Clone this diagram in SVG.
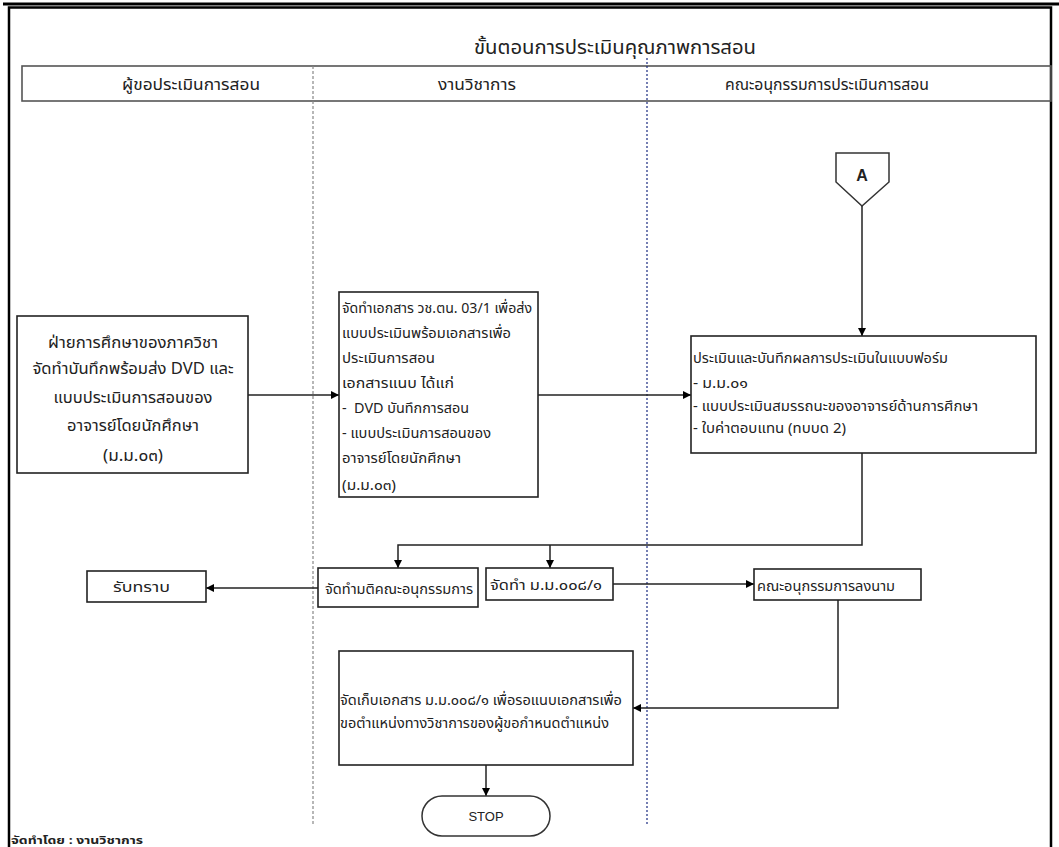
<svg xmlns="http://www.w3.org/2000/svg" width="1059" height="847" viewBox="0 0 1059 847">
<defs>
<marker id="ah" markerWidth="8" markerHeight="8" refX="8" refY="4" orient="auto" markerUnits="userSpaceOnUse">
<path d="M0,0 L8,4 L0,8 Z" fill="#000"/>
</marker>
<style>
text{font-family:"Noto Sans Thai","Noto Sans","Liberation Sans",sans-serif;fill:#222;}
.t13{font-size:13.5px;}
.t14{font-size:14px;}
.t16{font-size:16px;}
.c{text-anchor:middle;}
.box{fill:#fff;stroke:#222;stroke-width:1.6;}
.conn{fill:none;stroke:#222;stroke-width:1.5;}
</style>
</defs>
<rect width="1059" height="847" fill="#fff"/>
<!-- frame -->
<line x1="3" y1="4" x2="1059" y2="4" stroke="#000" stroke-width="3"/>
<path d="M9,860 V7.5 H1051 V860" fill="none" stroke="#000" stroke-width="2.5"/>
<g id="title">
<text x="474" y="54" style="font-size:19px" textLength="282" lengthAdjust="spacingAndGlyphs">ขั้นตอนการประเมินคุณภาพการสอน</text>
</g>
<g id="lanes">
<rect x="22" y="66" width="1029" height="35" fill="none" stroke="#555" stroke-width="1.6"/>
<line x1="313" y1="66" x2="313" y2="826" stroke="#888" stroke-width="1.2" stroke-dasharray="3,2"/>
<line x1="647" y1="58" x2="647" y2="826" stroke="#1a2a80" stroke-width="1.2" stroke-dasharray="2,2"/>
<text x="122" y="90" class="t16" textLength="138" lengthAdjust="spacingAndGlyphs">ผู้ขอประเมินการสอน</text>
<text x="438" y="90" class="t16" textLength="78" lengthAdjust="spacingAndGlyphs">งานวิชาการ</text>
<text x="725" y="90" class="t16" textLength="204" lengthAdjust="spacingAndGlyphs">คณะอนุกรรมการประเมินการสอน</text>
</g>
<g id="connectors">
<path class="conn" d="M248,395 H339" marker-end="url(#ah)"/>
<path class="conn" d="M538,395 H691" marker-end="url(#ah)"/>
<path class="conn" d="M862,206 V336" marker-end="url(#ah)"/>
<path class="conn" d="M862,453 V545 H398 V568" marker-end="url(#ah)"/>
<path class="conn" d="M550,545 V568" marker-end="url(#ah)"/>
<path class="conn" d="M318,588 H206" marker-end="url(#ah)"/>
<path class="conn" d="M613,584 H754" marker-end="url(#ah)"/>
<path class="conn" d="M838,600 V708 H633" marker-end="url(#ah)"/>
<path class="conn" d="M486,765 V796" marker-end="url(#ah)"/>
</g>
<g id="n_start">
<rect class="box" x="17" y="316" width="231" height="157"/>
<text class="c t16" x="133" y="348" textLength="170" lengthAdjust="spacingAndGlyphs">ฝ่ายการศึกษาของภาควิชา</text>
<text class="c t16" x="133" y="374" textLength="201" lengthAdjust="spacingAndGlyphs">จัดทำบันทึกพร้อมส่ง DVD และ</text>
<text class="c t16" x="133" y="403" textLength="159" lengthAdjust="spacingAndGlyphs">แบบประเมินการสอนของ</text>
<text class="c t16" x="133" y="431" textLength="132" lengthAdjust="spacingAndGlyphs">อาจารย์โดยนักศึกษา</text>
<text class="c t16" x="133" y="461" textLength="60" lengthAdjust="spacingAndGlyphs">(ม.ม.๐๓)</text>
</g>
<g id="n_doc">
<rect class="box" x="339" y="292" width="199" height="205"/>
<text class="t14" x="342" y="313" textLength="190" lengthAdjust="spacingAndGlyphs">จัดทำเอกสาร วช.ตน. 03/1 เพื่อส่ง</text>
<text class="t14" x="342" y="338" textLength="169" lengthAdjust="spacingAndGlyphs">แบบประเมินพร้อมเอกสารเพื่อ</text>
<text class="t14" x="342" y="363" textLength="93" lengthAdjust="spacingAndGlyphs">ประเมินการสอน</text>
<text class="t14" x="342" y="388" textLength="112" lengthAdjust="spacingAndGlyphs">เอกสารแนบ ได้แก่</text>
<text class="t14" x="342" y="413" xml:space="preserve" textLength="127" lengthAdjust="spacingAndGlyphs">-  DVD บันทึกการสอน</text>
<text class="t14" x="342" y="438" textLength="149" lengthAdjust="spacingAndGlyphs">- แบบประเมินการสอนของ</text>
<text class="t14" x="342" y="463" textLength="119" lengthAdjust="spacingAndGlyphs">อาจารย์โดยนักศึกษา</text>
<text class="t14" x="342" y="490" textLength="54" lengthAdjust="spacingAndGlyphs">(ม.ม.๐๓)</text>
</g>
<g id="n_A">
<path d="M836,153 H889 V182 L862,206 L836,182 Z" fill="#fff" stroke="#333" stroke-width="1.5"/>
<text x="862" y="181" class="c" style="font-size:16px;font-family:'Liberation Sans',sans-serif;font-weight:bold">A</text>
</g>
<g id="n_eval">
<rect class="box" x="691" y="336" width="345" height="117"/>
<text class="t13" x="693" y="363" textLength="255" lengthAdjust="spacingAndGlyphs">ประเมินและบันทึกผลการประเมินในแบบฟอร์ม</text>
<text class="t13" x="693" y="388" textLength="55" lengthAdjust="spacingAndGlyphs">- ม.ม.๐๑</text>
<text class="t13" x="693" y="411" textLength="285" lengthAdjust="spacingAndGlyphs">- แบบประเมินสมรรถนะของอาจารย์ด้านการศึกษา</text>
<text class="t13" x="693" y="433" textLength="153" lengthAdjust="spacingAndGlyphs">- ใบค่าตอบแทน (ทบบด 2)</text>
</g>
<g id="n_ack">
<rect class="box" x="87" y="571" width="119" height="31"/>
<text class="t14" x="113" y="592" textLength="57" lengthAdjust="spacingAndGlyphs">รับทราบ</text>
</g>
<g id="n_resolution">
<rect class="box" x="318" y="568" width="160" height="39"/>
<text class="t14" x="325" y="594" textLength="148" lengthAdjust="spacingAndGlyphs">จัดทำมติคณะอนุกรรมการ</text>
</g>
<g id="n_form">
<rect class="box" x="486" y="568" width="127" height="32"/>
<text class="t14" x="490" y="590" textLength="112" lengthAdjust="spacingAndGlyphs">จัดทำ ม.ม.๐๐๘/๑</text>
</g>
<g id="n_sign">
<rect class="box" x="754" y="569" width="167" height="31"/>
<text class="t14" x="757" y="591" textLength="138" lengthAdjust="spacingAndGlyphs">คณะอนุกรรมการลงนาม</text>
</g>
<g id="n_store">
<rect class="box" x="339" y="651" width="294" height="114"/>
<text class="t14" x="340" y="705" textLength="282" lengthAdjust="spacingAndGlyphs">จัดเก็บเอกสาร ม.ม.๐๐๘/๑ เพื่อรอแนบเอกสารเพื่อ</text>
<text class="t14" x="340" y="728" textLength="269" lengthAdjust="spacingAndGlyphs">ขอตำแหน่งทางวิชาการของผู้ขอกำหนดตำแหน่ง</text>
</g>
<g id="n_stop">
<rect x="422" y="796" width="128" height="40" rx="20" ry="20" fill="#fff" stroke="#333" stroke-width="1.5"/>
<text x="486" y="821" class="c" style="font-size:13px;font-family:'Liberation Sans',sans-serif">STOP</text>
</g>
<g id="footer">
<text x="11" y="844" style="font-size:11px;font-weight:bold" textLength="132" lengthAdjust="spacingAndGlyphs">จัดทำโดย :  งานวิชาการ</text>
</g>
</svg>
